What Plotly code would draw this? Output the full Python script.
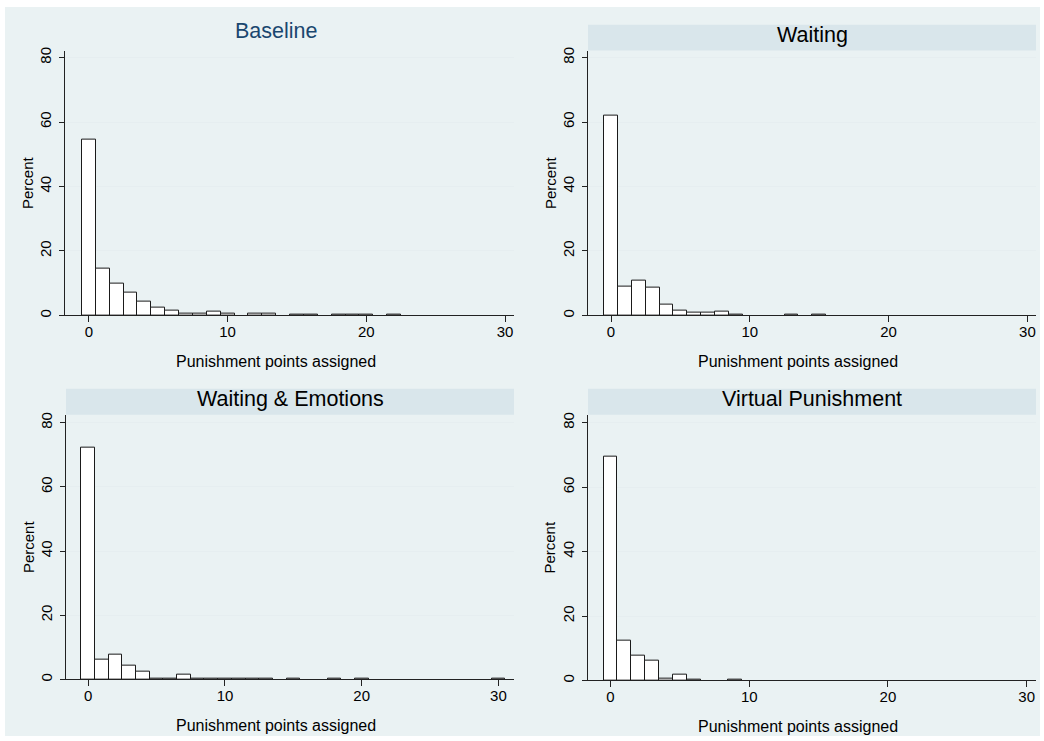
import plotly.graph_objects as go

W, H = 1044, 741

bins = list(range(0, 31))
panel_titles = ["Baseline", "Waiting", "Waiting & Emotions", "Virtual Punishment"]

baseline = [54.6, 14.4, 9.9, 7.2, 4.2, 2.3, 1.5, 0.6, 0.6, 1.1, 0.5, 0, 0.5, 0.5, 0, 0.3,
            0.3, 0, 0.3, 0.3, 0.3, 0, 0.3, 0, 0, 0, 0, 0, 0, 0, 0]
waiting = [61.9, 9.1, 10.8, 8.7, 3.3, 1.6, 0.9, 0.9, 1.3, 0.4, 0, 0, 0, 0.4, 0, 0.4,
           0, 0, 0, 0, 0, 0, 0, 0, 0, 0, 0, 0, 0, 0, 0]
waiting_emotions = [72.1, 6.2, 7.7, 4.4, 2.4, 0.3, 0.3, 1.5, 0.3, 0.3, 0.3, 0.3, 0.3, 0.3, 0, 0.3,
                    0, 0, 0.3, 0, 0.3, 0, 0, 0, 0, 0, 0, 0, 0, 0, 0.3]
virtual = [69.4, 12.3, 7.7, 6.1, 0.6, 1.85, 0.3, 0, 0, 0.3, 0, 0, 0, 0, 0, 0,
           0, 0, 0, 0, 0, 0, 0, 0, 0, 0, 0, 0, 0, 0, 0]

series = [baseline, waiting, waiting_emotions, virtual]
x_ticks = [0, 10, 20, 30]
y_ticks = [0, 20, 40, 60, 80]
x_title = "Punishment points assigned"
y_title = "Percent"

# layout in pixels: (left, right, top, bottom) of each plot area
boxes = [(65, 514, 47, 314), (588, 1036, 47, 314), (66, 514, 414, 681), (588, 1036, 414, 682)]
xranges = [[-1.72, 30.64], [-1.66, 30.62], [-1.63, 31.14], [-1.62, 30.67]]
yranges = [[0, 82.15], [0, 82.15], [0, 82.5], [0, 82.5]]

BG = "#EAF2F3"
STRIP = "#D9E6EB"
GRID = "#E6EEF0"
FONT = "Liberation Sans, Arial, sans-serif"

def px(x):
    return x / W

def py(y):
    return 1 - y / H

fig = go.Figure()
shapes = [dict(type="rect", xref="paper", yref="paper", x0=px(5), x1=px(1040), y0=py(738), y1=py(3),
               fillcolor=BG, line=dict(width=0), layer="below")]
annotations = []

for i, (vals, title) in enumerate(zip(series, panel_titles)):
    n = i + 1
    xa = "x" if n == 1 else f"x{n}"
    ya = "y" if n == 1 else f"y{n}"
    xs = [b for b, v in zip(bins, vals) if v > 0]
    ys = [v for v in vals if v > 0]
    fig.add_trace(go.Bar(x=xs, y=ys, width=1, xaxis=xa, yaxis=ya,
                         marker=dict(color="white", line=dict(color="#1a1a1a", width=1)),
                         showlegend=False, hoverinfo="x+y"))
    l, r, t, b = boxes[i]
    axis_common = dict(showline=True, linecolor="#222222", linewidth=1, ticks="outside",
                       tickcolor="#222222", tickfont=dict(family=FONT, size=15, color="black"),
                       mirror=False, zeroline=False)
    fig.layout[("xaxis" if n == 1 else f"xaxis{n}")] = dict(
        domain=[px(l), px(r)], range=xranges[i], anchor=ya, tickvals=x_ticks, ticklen=6,
        showgrid=False, ticklabelstandoff=-3, **axis_common)
    fig.layout[("yaxis" if n == 1 else f"yaxis{n}")] = dict(
        domain=[py(b), py(t)], range=yranges[i], anchor=xa, tickvals=y_ticks, ticklen=5,
        tickangle=-90, showgrid=True, gridcolor=GRID, gridwidth=1, ticklabelstandoff=2,
        **axis_common)
    # axis titles
    annotations.append(dict(text=x_title, xref="paper", yref="paper", x=px(l + (r - l) / 2 - 14),
                            y=py(b + 46), showarrow=False, xanchor="center", yanchor="middle",
                            font=dict(family=FONT, size=16, color="black")))
    annotations.append(dict(text=y_title, xref="paper", yref="paper", x=px(l - 38),
                            y=py((t + b) / 2), showarrow=False, xanchor="center", yanchor="middle",
                            textangle=-90, font=dict(family=FONT, size=15, color="black")))
    # titles
    if i == 0:
        annotations.append(dict(text=title, xref="paper", yref="paper", x=px(276), y=py(27),
                                showarrow=False, xanchor="center", yanchor="middle",
                                font=dict(family=FONT, size=21.5, color="#1A476F")))
    else:
        shapes.append(dict(type="rect", xref="paper", yref="paper", x0=px(l), x1=px(r),
                           y0=py(t), y1=py(t - 26), fillcolor=STRIP, line=dict(width=0), layer="below"))
        annotations.append(dict(text=title, xref="paper", yref="paper", x=px((l + r) / 2),
                                y=py(t - 16), showarrow=False, xanchor="center", yanchor="middle",
                                font=dict(family=FONT, size=21.5, color="black")))

fig.update_layout(width=W, height=H, margin=dict(l=0, r=0, t=0, b=0), paper_bgcolor="white",
                  plot_bgcolor="white", bargap=0, shapes=shapes, annotations=annotations,
                  font=dict(family=FONT))
fig.write_html("out.html", config={"displayModeBar": False},
               post_script="document.body.style.margin='0px';document.body.style.overflow='hidden';")
